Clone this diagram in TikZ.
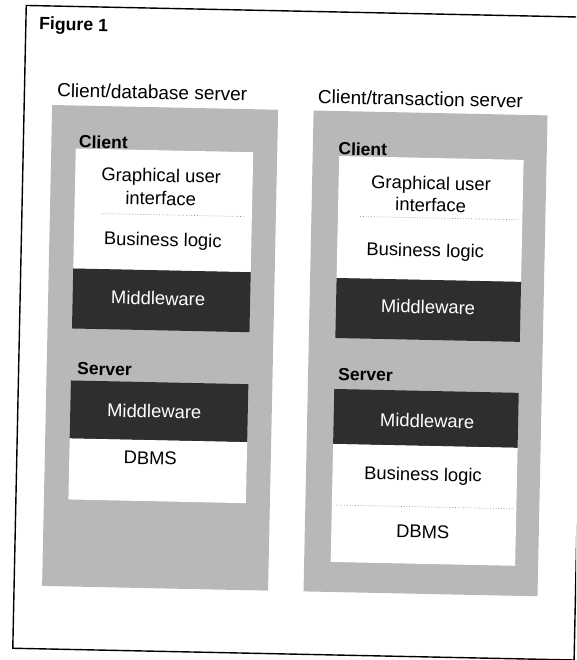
\documentclass[tikz,border=0pt]{standalone}
\usepackage{fontspec}
\setmainfont{Liberation Sans}
\begin{document}
\begin{tikzpicture}[x=1pt,y=-1pt,
  frame/.style={draw=black,line width=1.4pt,line cap=round},
  panel/.style={fill=black!28},
  layer/.style={fill=white},
  mwbox/.style={fill=black!82},
  txt/.style={inner sep=0pt,font=\fontsize{18.4}{20}\selectfont},
  mwtxt/.style={txt,text=white},
  tag/.style={inner sep=0pt,anchor=west,font=\fontsize{17.5}{20}\selectfont\bfseries},
  heading/.style={inner sep=0pt,anchor=west,font=\fontsize{19}{20}\selectfont},
  sep/.style={black!45,dotted,line width=0.7pt}]
\useasboundingbox (0,0) rectangle (576,660);
\clip (0,0) rectangle (576,660);
\begin{scope}[rotate around={-1.2:(288,330)},transform shape]
  % outer frame, corners named
  \coordinate (ftl) at (19.5,11);
  \coordinate (ftr) at (581,11);
  \coordinate (fbr) at (581,654);
  \coordinate (fbl) at (19.5,654);
  \draw[frame] (ftl) -- (ftr) -- (fbr) -- (fbl) -- cycle;
  \node[inner sep=0pt,anchor=west,font=\fontsize{17.7}{20}\selectfont\bfseries] (fig) at (32.6,30.5) {Figure 1};

  % ---- client/database server ----
  \node[heading] (dbtitle) at (52,95) {Client/database server};
  \fill[panel] (47.5,110) rectangle (273.5,591);
  \node[tag] (dbclient) at (75,146) {Client};
  \fill[layer] (72,153) rectangle (249.5,273);
  \draw[sep] (100,217.5) -- (242,217.5);
  \node[txt] (dbgui1) at (158,180) {Graphical user};
  \node[txt] (dbgui2) at (158,201) {interface};
  \node[txt] (dbbl) at (161,244) {Business logic};
  \fill[mwbox] (72,273) rectangle (249.5,333);
  \node[mwtxt] (dbmwc) at (157.5,301) {Middleware};
  \node[tag] (dbserver) at (78,373) {Server};
  \fill[mwbox] (72,385) rectangle (249.5,443);
  \node[mwtxt] (dbmws) at (156,414) {Middleware};
  \fill[layer] (72,443) rectangle (249.5,504);
  \node[txt] (dbdbms) at (153,461) {DBMS};

  % ---- client/transaction server ----
  \node[heading] (tptitle) at (313,96) {Client/transaction server};
  \fill[panel] (309,110) rectangle (543,591);
  \node[tag] (tpclient) at (334.5,147.5) {Client};
  \fill[layer] (335.5,155) rectangle (520,277);
  \draw[sep] (358,215) -- (517,215);
  \node[txt] (tpgui1) at (428,182) {Graphical user};
  \node[txt] (tpgui2) at (428,202) {interface};
  \node[txt] (tpblc) at (423.5,249) {Business logic};
  \fill[mwbox] (335.5,277) rectangle (520,337);
  \node[mwtxt] (tpmwc) at (427.5,304) {Middleware};
  \node[tag] (tpserver) at (339,373) {Server};
  \fill[mwbox] (335.5,388) rectangle (520,443);
  \node[mwtxt] (tpmws) at (429,418) {Middleware};
  \fill[layer] (335.5,443) rectangle (520,561);
  \draw[sep] (340,504) -- (518,504);
  \node[txt] (tpbls) at (426,473) {Business logic};
  \node[txt] (tpdbms) at (427,529) {DBMS};
\end{scope}
\end{tikzpicture}
\end{document}
